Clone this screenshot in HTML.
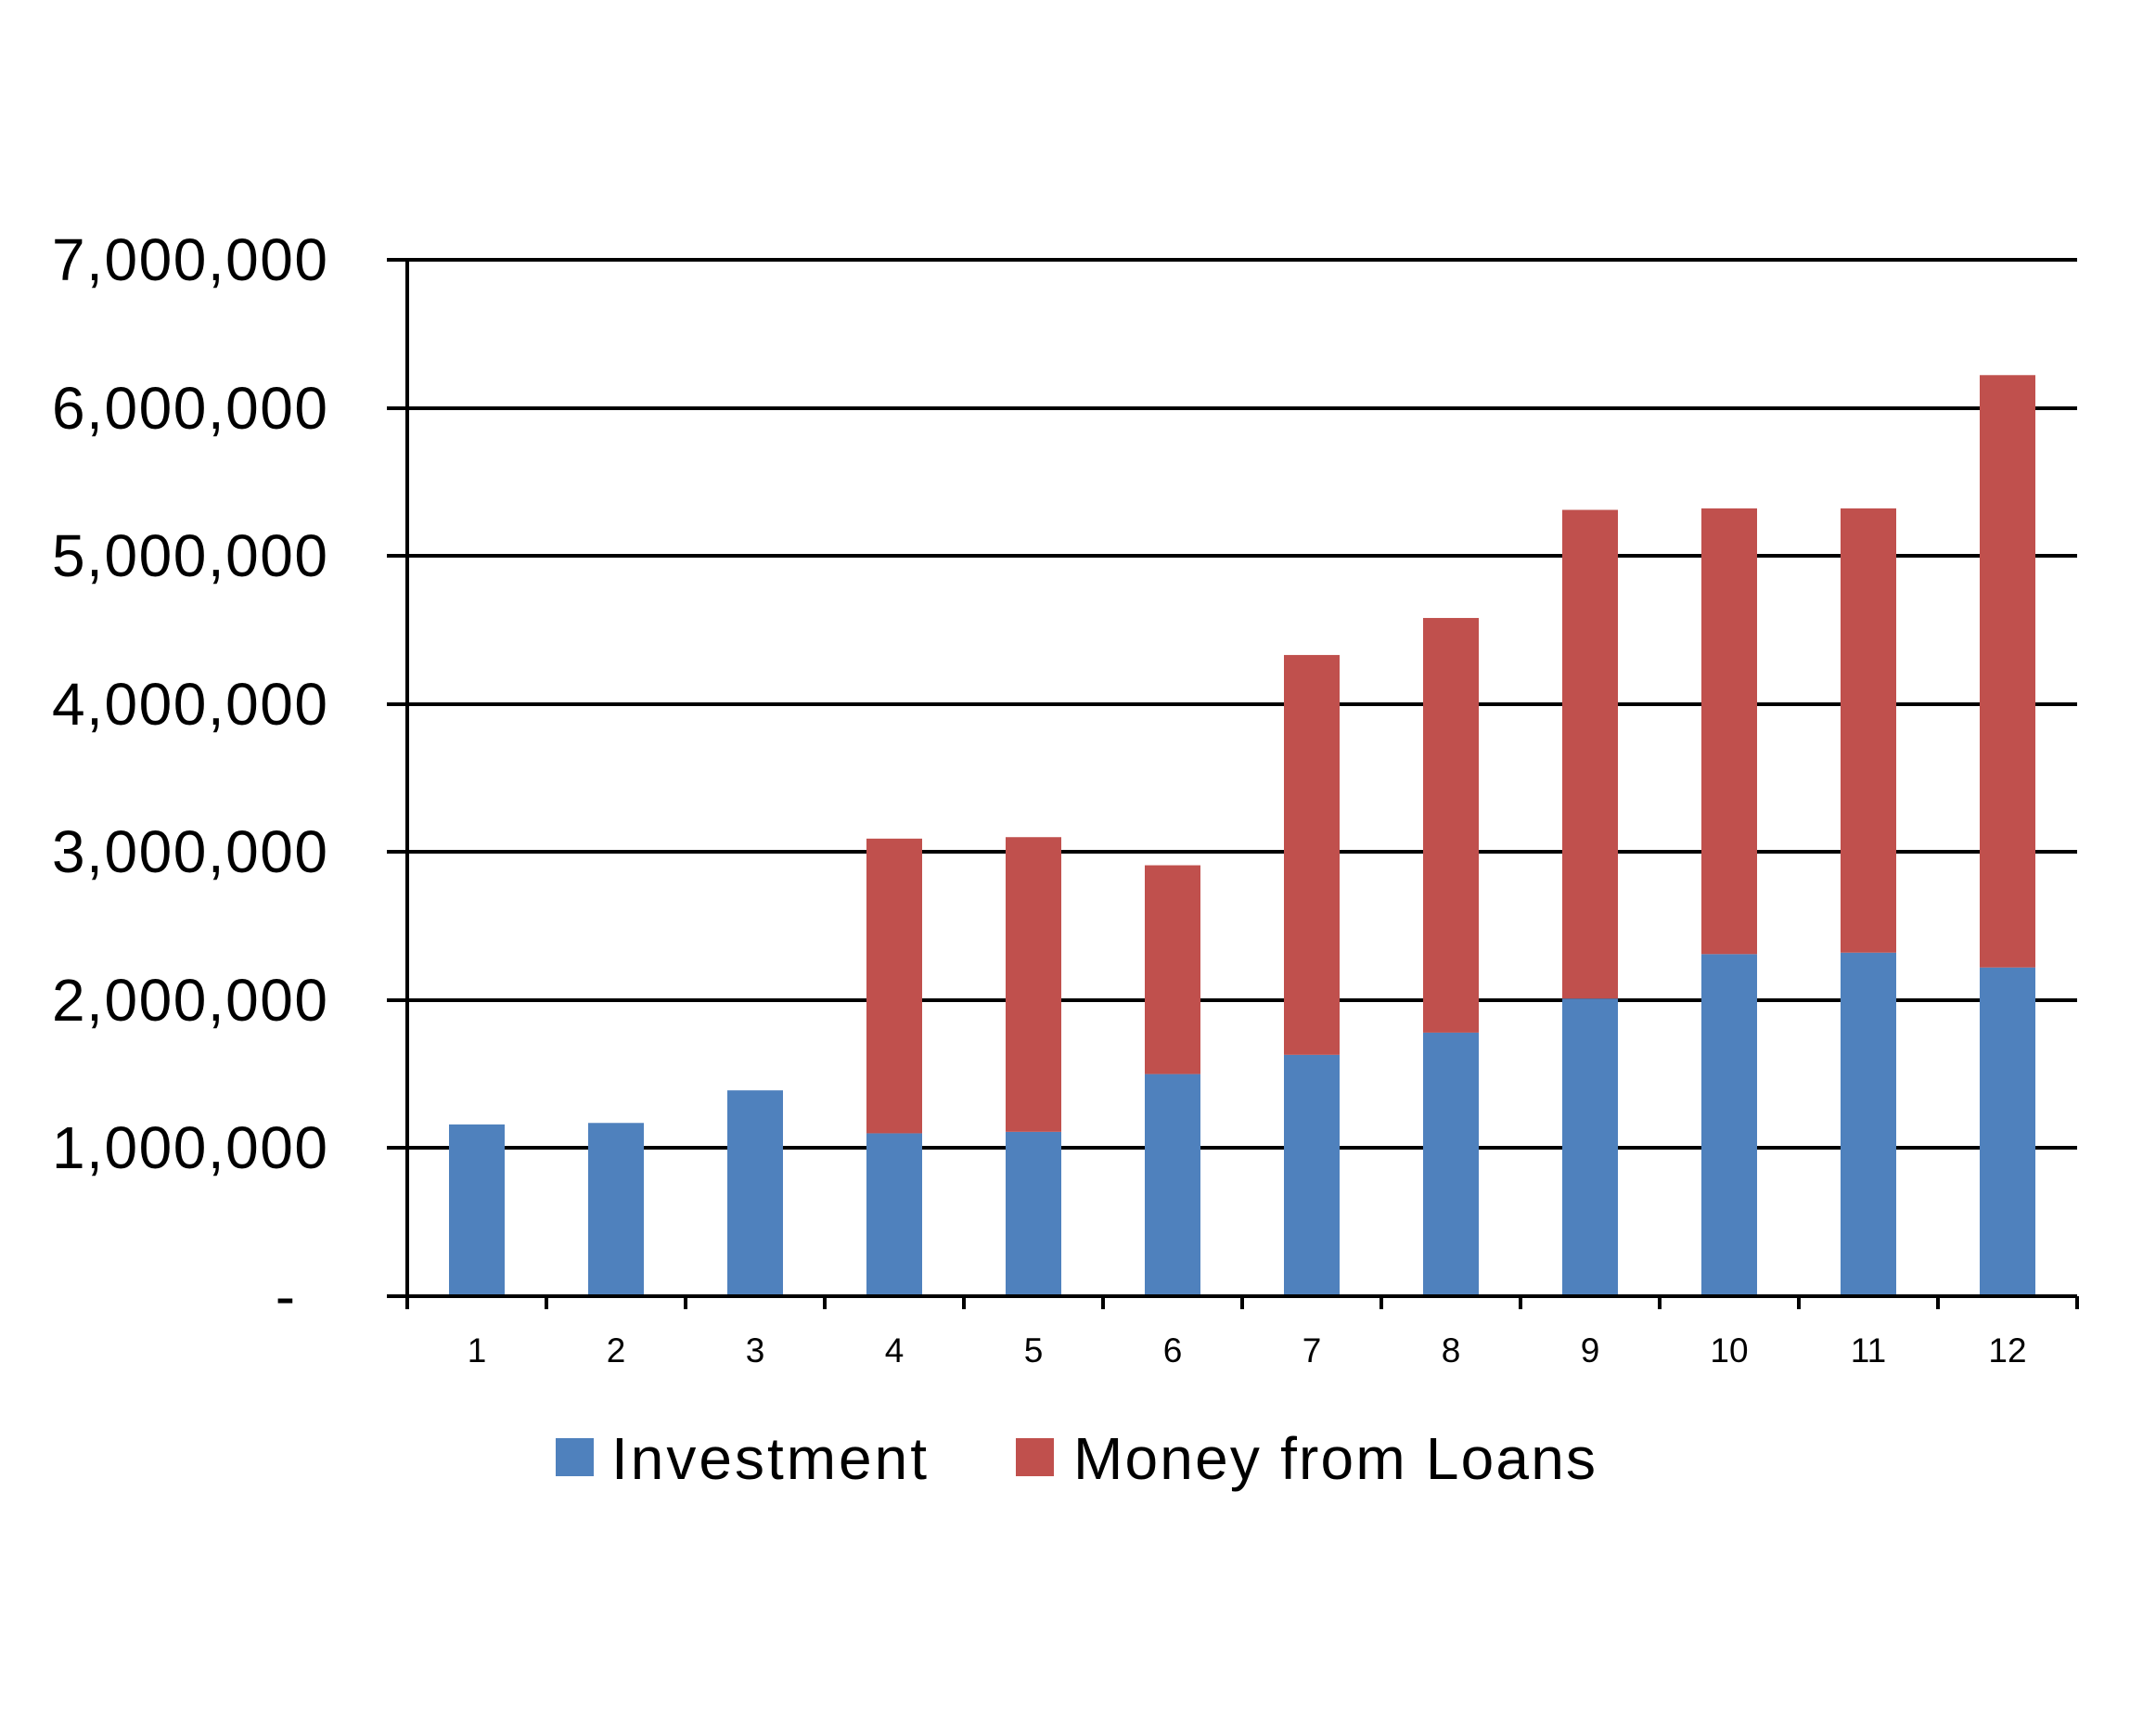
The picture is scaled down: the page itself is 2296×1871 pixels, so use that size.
<!DOCTYPE html>
<html><head><style>html,body{margin:0;padding:0;background:#fff}</style></head><body>
<svg width="2296" height="1866" xmlns="http://www.w3.org/2000/svg" font-family="'Liberation Sans', sans-serif">
<rect width="2296" height="1866" fill="#fff"/>
<g stroke="#000" stroke-width="4">
<line x1="417" y1="280" x2="2239" y2="280"/>
<line x1="417" y1="440" x2="2239" y2="440"/>
<line x1="417" y1="599" x2="2239" y2="599"/>
<line x1="417" y1="759" x2="2239" y2="759"/>
<line x1="417" y1="918" x2="2239" y2="918"/>
<line x1="417" y1="1078" x2="2239" y2="1078"/>
<line x1="417" y1="1237" x2="2239" y2="1237"/>
</g>
<g id="bars"></g>
<g stroke="#000" stroke-width="4">
<line x1="417" y1="1397" x2="2239" y2="1397"/>
<line x1="439" y1="280" x2="439" y2="1411"/>
</g>
<g id="ticks" stroke="#000" stroke-width="4"></g>
<g font-size="64" text-anchor="end" fill="#000">
<text x="353" y="302" textLength="297">7,000,000</text>
<text x="353" y="462" textLength="297">6,000,000</text>
<text x="353" y="621" textLength="297">5,000,000</text>
<text x="353" y="781" textLength="297">4,000,000</text>
<text x="353" y="940" textLength="297">3,000,000</text>
<text x="353" y="1100" textLength="297">2,000,000</text>
<text x="353" y="1259" textLength="297">1,000,000</text>
<text x="318" y="1419">-</text>
</g>
<g id="xl" font-size="37" text-anchor="middle"></g>
<rect x="599" y="1550" width="41" height="41" fill="#4f81bd"/>
<text x="659" y="1594" font-size="64" textLength="340">Investment</text>
<rect x="1095" y="1550" width="41" height="41" fill="#c0504d"/>
<text x="1157" y="1594" font-size="64" textLength="563">Money from Loans</text>
<script>
var inv=[1.16,1.17,1.39,1.10,1.11,1.50,1.63,1.78,2.01,2.31,2.32,2.22];
var tot=[0,0,0,3.09,3.10,2.91,4.33,4.58,5.31,5.32,5.32,6.22];
var ns="http://www.w3.org/2000/svg",b=document.getElementById("bars"),t=document.getElementById("ticks"),xl=document.getElementById("xl");
function Y(v){return 1397-v*159.6;}
for(var i=0;i<12;i++){var cx=439+(i+0.5)*150;
var r=document.createElementNS(ns,"rect");r.setAttribute("x",cx-30);r.setAttribute("width",60);r.setAttribute("y",Y(inv[i]));r.setAttribute("height",1397-Y(inv[i]));r.setAttribute("fill","#4f81bd");b.appendChild(r);
if(tot[i]){var q=document.createElementNS(ns,"rect");q.setAttribute("x",cx-30);q.setAttribute("width",60);q.setAttribute("y",Y(tot[i]));q.setAttribute("height",Y(inv[i])-Y(tot[i]));q.setAttribute("fill","#c0504d");b.appendChild(q);}
var tx=document.createElementNS(ns,"text");tx.setAttribute("x",cx);tx.setAttribute("y",1468);tx.textContent=i+1;xl.appendChild(tx);}
for(var i=1;i<=12;i++){var l=document.createElementNS(ns,"line");var x=439+i*150;l.setAttribute("x1",x);l.setAttribute("x2",x);l.setAttribute("y1",1397);l.setAttribute("y2",1411);t.appendChild(l);}
</script>
</svg>
</body></html>
